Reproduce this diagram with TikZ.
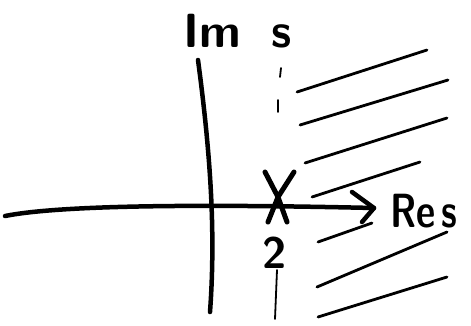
\documentclass[tikz,border=0pt]{standalone}
\begin{document}
\begin{tikzpicture}[x=1pt,y=-1pt,
  axis/.style={line width=4.5pt, line cap=round, line join=round},
  hatch/.style={line width=2.8pt, line cap=round},
  guide/.style={line width=1.8pt, line cap=round},
  lbl/.style={font=\sffamily\bfseries\fontsize{48}{48}\selectfont, inner sep=0pt, anchor=base},
  num/.style={font=\sffamily\bfseries\fontsize{44}{44}\selectfont, inner sep=0pt}]
\useasboundingbox (0,0) rectangle (471,325);
% axes
\coordinate (hl) at (5,216);
\coordinate (ht) at (374,208);
\coordinate (vt) at (198,60);
\coordinate (vb) at (210,312);
\draw[axis] (hl) .. controls (60,205) and (200,204) .. (ht);
\draw[axis] (352,192) -- (ht) -- (362,222);
\draw[axis] (vt) .. controls (210,150) and (216,230) .. (vb);
% labels
\node[lbl] (im) at (212,47) {Im};
\node[lbl] (s) at (282,47) {s};
\node[lbl, anchor=base west] (re) at (390,227) {\scalebox{0.78}[1]{Re\,s}};
% pole
\coordinate (p) at (278,197);
\draw[axis, line width=5pt] (265,172) -- (p) -- (287,222);
\draw[axis, line width=5pt] (294,172) -- (p) -- (268,222);
\node[num] (two) at (275,253) {2};
% dashed guide Re s = 2
\draw[guide] (281,68) -- (280,77);
\draw[guide] (278,100) -- (278,112);
\draw[guide] (277,270) -- (275,319);
% hatching
\draw[hatch] (297,92) -- (427,50);
\draw[hatch] (300,125) -- (448,80);
\draw[hatch] (305,163) -- (447,118);
\draw[hatch] (312,197) -- (420,162);
\draw[hatch] (318,242) -- (372,223);
\draw[hatch] (317,287) -- (447,232);
\draw[hatch] (318,317) -- (447,277);
\end{tikzpicture}
\end{document}
